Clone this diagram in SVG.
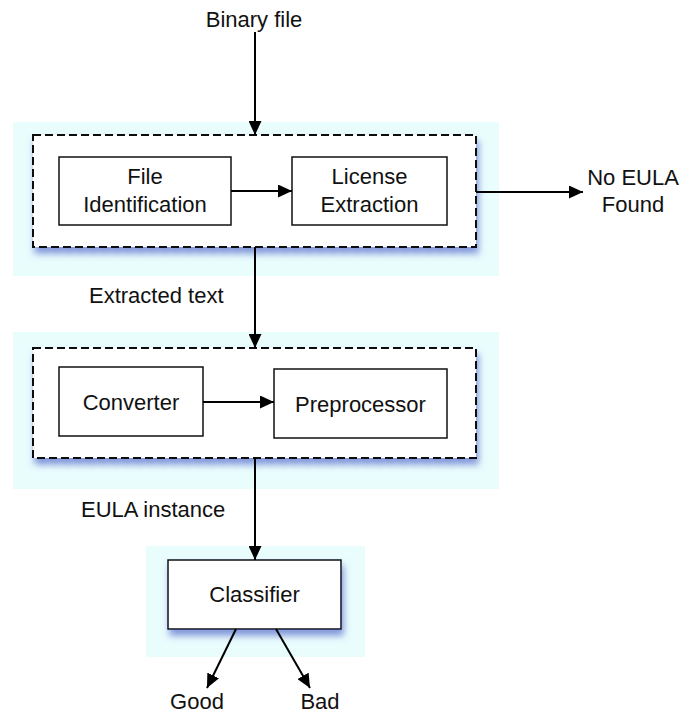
<svg xmlns="http://www.w3.org/2000/svg" width="697" height="715" viewBox="0 0 697 715">
<style>
  .t { font-family: "Liberation Sans", Arial, sans-serif; font-size: 22px; fill: #111; text-anchor: middle; }
  .tl { font-family: "Liberation Sans", Arial, sans-serif; font-size: 22px; fill: #111; text-anchor: start; }
  .bg { fill: #eafdfd; stroke: none; }
  .grp { fill: #fff; stroke: #111; stroke-width: 2; stroke-dasharray: 8 4; }
  .box { fill: #fff; stroke: #111; stroke-width: 1.5; }
  .edge { stroke: #000; stroke-width: 2; fill: none; }
</style>
<defs>
  <marker id="ah" markerUnits="userSpaceOnUse" markerWidth="15" markerHeight="13" refX="14" refY="6.5" orient="auto">
    <path d="M0,0 L14,6.5 L0,13 z" fill="#000"/>
  </marker>
  <filter id="sh" x="-10%" y="-20%" width="120%" height="150%">
    <feGaussianBlur in="SourceAlpha" stdDeviation="3.5"/>
    <feOffset dx="2" dy="6" result="b"/>
    <feFlood flood-color="#4a5fc8" flood-opacity="0.65"/>
    <feComposite in2="b" operator="in" result="s"/>
    <feMerge><feMergeNode in="s"/><feMergeNode in="SourceGraphic"/></feMerge>
  </filter>
</defs>

<g id="group1">
  <rect class="bg" x="13" y="122" width="486" height="154"/>
  <rect class="grp" x="33" y="135" width="443" height="112" filter="url(#sh)"/>
</g>
<g id="group2">
  <rect class="bg" x="13" y="332" width="486" height="157"/>
  <rect class="grp" x="33" y="348" width="443" height="110" filter="url(#sh)"/>
</g>
<g id="group3">
  <rect class="bg" x="146" y="546" width="219" height="111"/>
</g>

<g id="binary-file">
  <text class="t" x="254" y="27">Binary file</text>
</g>
<g id="file-identification">
  <rect class="box" x="59" y="157" width="172" height="68"/>
  <text class="t" x="145" y="184">File</text>
  <text class="t" x="145" y="212">Identification</text>
</g>
<g id="license-extraction">
  <rect class="box" x="292" y="157" width="155" height="68"/>
  <text class="t" x="369.5" y="184">License</text>
  <text class="t" x="369.5" y="212">Extraction</text>
</g>
<g id="no-eula-found">
  <text class="t" x="633" y="185">No EULA</text>
  <text class="t" x="633" y="212">Found</text>
</g>
<g id="extracted-text">
  <text class="tl" x="89" y="303">Extracted text</text>
</g>
<g id="converter">
  <rect class="box" x="59" y="367" width="144" height="69"/>
  <text class="t" x="131" y="410">Converter</text>
</g>
<g id="preprocessor">
  <rect class="box" x="274" y="369" width="173" height="69"/>
  <text class="t" x="360.5" y="412">Preprocessor</text>
</g>
<g id="eula-instance">
  <text class="tl" x="81" y="517">EULA instance</text>
</g>
<g id="classifier">
  <rect class="box" x="168" y="560" width="173" height="69" filter="url(#sh)"/>
  <text class="t" x="254.5" y="602">Classifier</text>
</g>
<g id="good">
  <text class="t" x="197" y="709">Good</text>
</g>
<g id="bad">
  <text class="t" x="320" y="709">Bad</text>
</g>

<g id="connectors">
  <line class="edge" x1="255" y1="32" x2="255" y2="135" marker-end="url(#ah)"/>
  <line class="edge" x1="231" y1="191" x2="292" y2="191" marker-end="url(#ah)"/>
  <line class="edge" x1="476" y1="192" x2="583" y2="192" marker-end="url(#ah)"/>
  <line class="edge" x1="255" y1="247" x2="255" y2="348" marker-end="url(#ah)"/>
  <line class="edge" x1="203" y1="402" x2="274" y2="402" marker-end="url(#ah)"/>
  <line class="edge" x1="255" y1="458" x2="255" y2="560" marker-end="url(#ah)"/>
  <line class="edge" x1="236" y1="629" x2="207" y2="688" marker-end="url(#ah)"/>
  <line class="edge" x1="276" y1="629" x2="310" y2="688" marker-end="url(#ah)"/>
</g>
</svg>
